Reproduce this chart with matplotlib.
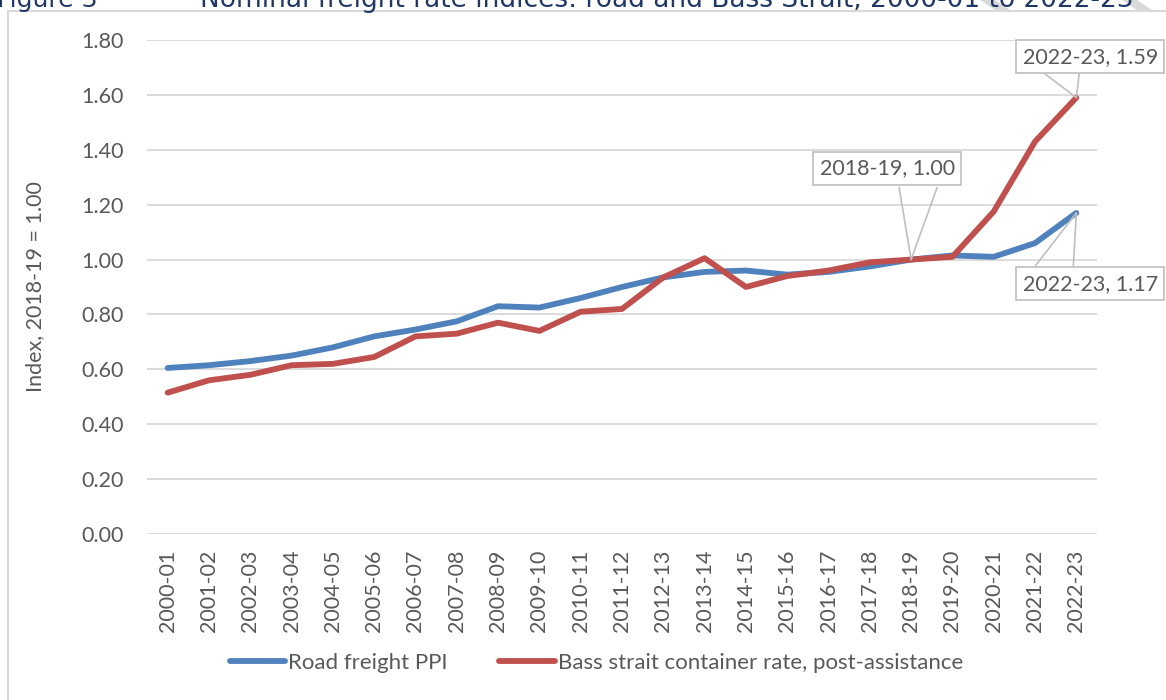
import matplotlib
matplotlib.use("Agg")
import matplotlib.pyplot as plt
from matplotlib.patches import Rectangle, Polygon

plt.rcParams['font.family'] = ['Lato', 'DejaVu Sans']

# === Data ===
periods = [
    "2000-01", "2001-02", "2002-03", "2003-04", "2004-05", "2005-06",
    "2006-07", "2007-08", "2008-09", "2009-10", "2010-11", "2011-12",
    "2012-13", "2013-14", "2014-15", "2015-16", "2016-17", "2017-18",
    "2018-19", "2019-20", "2020-21", "2021-22", "2022-23"
]

road_ppi = [
    0.605, 0.615, 0.630, 0.650, 0.680, 0.720,
    0.745, 0.775, 0.830, 0.825, 0.860, 0.900,
    0.935, 0.955, 0.960, 0.945, 0.955, 0.975,
    1.000, 1.015, 1.010, 1.060, 1.170
]

bass_strait = [
    0.515, 0.560, 0.580, 0.615, 0.620, 0.645,
    0.720, 0.730, 0.770, 0.740, 0.810, 0.820,
    0.935, 1.005, 0.900, 0.940, 0.960, 0.990,
    1.000, 1.010, 1.175, 1.430, 1.590
]

fig_label = "Figure 3"
title = "Nominal freight rate indices: road and Bass Strait, 2000-01 to 2022-23"

BLUE = '#4F81BD'
RED = '#C0504D'
GREY_TXT = '#595959'
GRID = '#D9D9D9'

W, H = 1166, 700
fig = plt.figure(figsize=(W / 100, H / 100), dpi=100)
fig.patch.set_facecolor('white')

# faint watermark strokes peeking above the chart box
for x0 in (980, 1122):
    fig.patches.append(Polygon([(x0 / W, 1), ((x0 + 15) / W, 1),
                                ((x0 + 33) / W, 1 - 12 / H), ((x0 + 18) / W, 1 - 12 / H)],
                               closed=True, transform=fig.transFigure,
                               facecolor='#D9D9D9', edgecolor='none', zorder=-3))

# chart area box
fig.patches.append(Rectangle((8 / W, -0.05), 1.1, 1.05 - 11 / H, transform=fig.transFigure,
                             facecolor='white', edgecolor=GRID, linewidth=1.5, zorder=-2))

# partially visible caption above the chart
fig.text(-3 / W, 1 - 7 / H, fig_label, color='#1F3864', fontsize=18,
         va='baseline', ha='left', family='DejaVu Sans')
fig.text(200 / W, 1 - 7 / H, title, color='#1F3864', fontsize=19,
         va='baseline', ha='left', family='DejaVu Sans')

ax = fig.add_axes([147 / W, 1 - 534 / H, 950 / W, 494 / H])
ax.set_facecolor('none')

x = list(range(len(periods)))
ax.plot(x, road_ppi, color=BLUE, linewidth=4.2, solid_capstyle='round',
        solid_joinstyle='round', label='Road freight PPI', zorder=3)
ax.plot(x, bass_strait, color=RED, linewidth=4.2, solid_capstyle='round',
        solid_joinstyle='round', label='Bass strait container rate, post-assistance', zorder=3)

ax.set_xlim(-0.5, len(periods) - 0.5)
ax.set_ylim(0, 1.8)
ax.set_yticks([i * 0.2 for i in range(10)])
ax.set_yticklabels([f"{i * 0.2:.2f}" for i in range(10)])
ax.set_xticks(x)
ax.set_xticklabels(periods, rotation=90)
ax.tick_params(axis='y', length=0, pad=16.5, labelsize=15.5, labelcolor=GREY_TXT)
ax.tick_params(axis='x', length=0, pad=11, labelsize=15.5, labelcolor=GREY_TXT)

ax.grid(True, axis='y', color=GRID, linewidth=1.3)
ax.set_axisbelow(True)
for spine in ax.spines.values():
    spine.set_visible(False)

ax.set_ylabel("Index, 2018-19 = 1.00", fontsize=15.5, color=GREY_TXT, labelpad=26)

# Data labels with callout wedges (offsets in pixels)
callouts = [
    (18, road_ppi[18], (-24, 91), (-12, 72), (26, 72)),
    (22, road_ppi[22], (14, -71), (-41, -53), (-3, -53)),
    (22, bass_strait[22], (14, 41), (-33, 25), (3, 25)),
]
for i, v, box, b1, b2 in callouts:
    for b in (b1, b2):
        ax.annotate('', xy=(i, v), xytext=b, textcoords='offset pixels',
                    arrowprops=dict(arrowstyle='-', color='#BFBFBF', lw=1.2,
                                    shrinkA=0, shrinkB=0), zorder=4, annotation_clip=False)
    ax.annotate(f"{periods[i]}, {v:.2f}", xy=(i, v), xytext=box, textcoords='offset pixels',
                ha='center', va='center', fontsize=15.5, color=GREY_TXT, zorder=5,
                annotation_clip=False,
                bbox=dict(boxstyle='square,pad=0.3', facecolor='white',
                          edgecolor='#BFBFBF', linewidth=1.2))

leg = ax.legend(loc='center', bbox_to_anchor=(0.473, -0.261), ncol=2, frameon=False,
                fontsize=16, handlelength=2.5, handletextpad=0.15, columnspacing=2.3)
for t in leg.get_texts():
    t.set_color(GREY_TXT)
for h in leg.get_lines():
    h.set_solid_capstyle('round')

fig.savefig("out.png", dpi=100)
